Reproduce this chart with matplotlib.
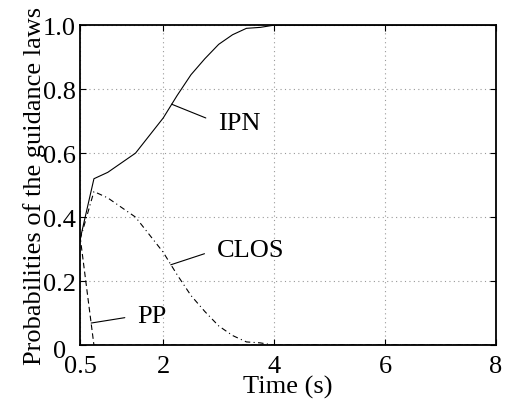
import numpy as np
import matplotlib
matplotlib.use('Agg')
import matplotlib.pyplot as plt
from matplotlib.transforms import ScaledTranslation

plt.rcParams['font.family'] = 'Liberation Serif'

# model probabilities sampled every 0.25 s
t = [0.5, 0.75, 1.0, 1.25, 1.5, 1.75, 2.0, 2.25, 2.5, 2.75, 3.0, 3.25, 3.5, 3.75, 4.0, 8.0]
p_ipn = [0.33, 0.52, 0.54, 0.57, 0.60, 0.655, 0.71, 0.78, 0.845, 0.895, 0.94, 0.97, 0.99, 0.993, 1.0, 1.0]
p_clos = [0.33, 0.48, 0.46, 0.43, 0.40, 0.345, 0.29, 0.22, 0.155, 0.105, 0.06, 0.03, 0.01, 0.007, 0.0, 0.0]
p_pp = [0.34, 0.0, 0.0, 0.0, 0.0, 0.0, 0.0, 0.0, 0.0, 0.0, 0.0, 0.0, 0.0, 0.0, 0.0, 0.0]

xticks = [0.5, 2, 4, 6, 8]
xticklabels = ['0.5', '2', '4', '6', '8']
yticks = [0, 0.2, 0.4, 0.6, 0.8, 1.0]
yticklabels = ['0', '0.2', '0.4', '0.6', '0.8', '1.0']

FS = 19

fig = plt.figure(figsize=(5.1, 4.02), dpi=100)
ax = fig.add_axes([0.157, 0.139, 0.8155, 0.796])

ax.plot(t, p_ipn, 'k-', lw=0.8)
ax.plot(t, p_clos, 'k', lw=0.8, dashes=(5, 3, 1, 3))
ax.plot(t, p_pp, 'k', lw=0.8, dashes=(5, 3))

# curve labels with leader lines
lbl = dict(fontsize=FS, ha='left', va='center',
           arrowprops=dict(arrowstyle='-', lw=0.8, color='k',
                           relpos=(0, 0.5), shrinkA=7, shrinkB=0))
ax.annotate('IPN', xy=(2.15, 0.753), xytext=(2.98, 0.695), **lbl)
ax.annotate('CLOS', xy=(2.135, 0.251), xytext=(2.96, 0.298), **lbl)
ax.annotate('PP', xy=(0.70, 0.069), xytext=(1.53, 0.092), **lbl)

ax.set_xlim(0.5, 8)
ax.set_ylim(0, 1)
ax.set_xticks(xticks)
ax.set_xticklabels(xticklabels)
ax.set_yticks(yticks)
ax.set_yticklabels(yticklabels)
ax.tick_params(direction='in', length=4, width=0.8, top=True, right=True,
               labelsize=FS, pad=3)
ax.tick_params(axis='x', pad=7)
ax.grid(True, color='#999999', linestyle=(0, (1, 3)), lw=0.8)
for s in ax.spines.values():
    s.set_linewidth(1.3)

ax.set_xlabel('Time (s)', fontsize=FS, labelpad=-1.5)
ax.set_ylabel('Probabilities of the guidance laws', fontsize=FS, labelpad=-2)

# nudge the "0" label down and left
zero = ax.get_yticklabels()[0]
zero.set_transform(zero.get_transform() + ScaledTranslation(-0.1, -0.03, fig.dpi_scale_trans))

fig.savefig('out.png', dpi=100)
